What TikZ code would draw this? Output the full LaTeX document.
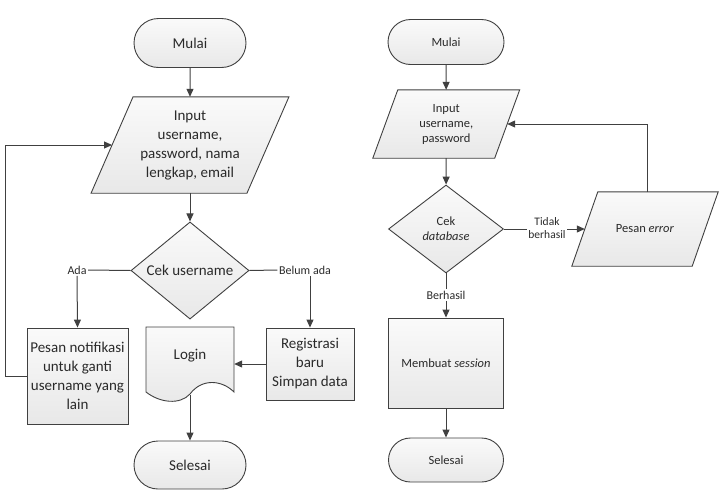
\documentclass[tikz,border=0pt]{standalone}
\usepackage{fontspec}
\setmainfont{Carlito}
\usetikzlibrary{shapes.geometric,shapes.misc,arrows.meta,calc,backgrounds}
\definecolor{lc}{HTML}{404040}
\definecolor{tc}{HTML}{2A2A2A}
\begin{document}
\begin{tikzpicture}[x=1pt,y=-1pt,
  shp/.style={draw=lc, line width=0.9pt, top color=black!2, bottom color=black!9, text=tc},
  bigt/.style={font=\fontsize{15}{19}\selectfont, text=tc, align=center},
  smallt/.style={font=\fontsize{12.5}{15}\selectfont, text=tc, align=center},
  term/.style={shp, rounded rectangle, inner sep=0pt},
  proc/.style={shp, rectangle, inner sep=0pt},
  dec/.style={shp, diamond, inner sep=0pt},
  plain/.style={inner sep=0pt},
  lbl/.style={font=\fontsize{12}{13.5}\selectfont, text=tc, inner sep=1.5pt, align=center},
  ln/.style={draw=lc, line width=1pt},
  arr/.style={ln, -{Triangle[length=8pt,width=7pt]}}
]
\useasboundingbox (0,0) rectangle (723,498);

% ---------------- left flowchart ----------------
\node[term, bigt, minimum width=112, minimum height=49] (mulai1) at (190,43) {Mulai};
\node[plain, bigt, minimum width=155.5, minimum height=96] (in1) at (190,145)
  {Input\\username,\\password, nama\\lengkap, email};
\node[dec, bigt, minimum width=118, minimum height=95] (cek1) at (190,270.5) {Cek username};
\node[lbl] (ada) at (77,270) {Ada};
\node[lbl] (belum) at (305,270) {Belum ada};
\node[proc, bigt, minimum width=101, minimum height=96] (pesan) at (77.5,376)
  {Pesan notifikasi\\untuk ganti\\username yang\\lain};
\node[proc, bigt, minimum width=88, minimum height=72] (reg) at (310,364)
  {Registrasi\\baru\\Simpan data};
\node[plain, bigt, minimum width=88, minimum height=58] (login) at (190,356) {Login};
\coordinate (loginbot) at (190,395);
\node[term, bigt, minimum width=112, minimum height=48] (sel1) at (190,465) {Selesai};

\begin{pgfonlayer}{background}
  \path[shp] ($(in1.south west)+(-21,0)$) -- ($(in1.south east)+(-21,0)$)
     -- ($(in1.north east)+(21,0)$) -- ($(in1.north west)+(21,0)$) -- cycle;
  \path[shp] (146,327) -- (234,327) -- (234,392)
     .. controls (222,380) and (202,378) .. (190,394)
     .. controls (180,405) and (160,403) .. (146,392) -- cycle;
\end{pgfonlayer}

\draw[arr] (mulai1) -- (in1);
\draw[arr] (in1) -- (cek1);
\draw[ln] (cek1.west) -- (ada.east);
\draw[arr] (ada.south) -- (pesan.north);
\draw[ln] (cek1.east) -- (belum.west);
\draw[arr] (belum.south -| reg.north) -- (reg.north);
\draw[arr] (reg.west) -- (reg.west -| login.east);
\draw[arr] (loginbot) -- (sel1);
\draw[arr] (pesan.west) -- (5,376) -- (5,145) -- (in1.west);

% ---------------- right flowchart ----------------
\node[term, smallt, minimum width=116, minimum height=45] (mulai2) at (446,42) {Mulai};
\node[plain, smallt, minimum width=121.5, minimum height=68] (in2) at (446.25,124)
  {Input\\username,\\password};
\node[dec, smallt, minimum width=115, minimum height=88] (cek2) at (446,229) {Cek\\\textit{database}};
\node[lbl, font=\fontsize{11.5}{13.5}\selectfont] (tidak) at (547,228) {Tidak\\berhasil};
\node[plain, smallt, minimum width=120, minimum height=74] (err) at (645,229) {Pesan \textit{error}};
\node[lbl] (berhasil) at (446,295) {Berhasil};
\node[proc, smallt, minimum width=115, minimum height=90] (sess) at (446,363) {Membuat \textit{session}};
\node[term, smallt, minimum width=115, minimum height=44] (sel2) at (446,460) {Selesai};

\begin{pgfonlayer}{background}
  \path[shp] ($(in2.south west)+(-12.5,0)$) -- ($(in2.south east)+(-12.5,0)$)
     -- ($(in2.north east)+(12.5,0)$) -- ($(in2.north west)+(12.5,0)$) -- cycle;
  \path[shp] ($(err.south west)+(-13,0)$) -- ($(err.south east)+(-13,0)$)
     -- ($(err.north east)+(13,0)$) -- ($(err.north west)+(13,0)$) -- cycle;
\end{pgfonlayer}

\draw[arr] (mulai2) -- (in2);
\draw[arr] (in2) -- (cek2);
\draw[ln] (cek2.east) -- (tidak.west |- cek2.east);
\draw[arr] (tidak.east |- cek2.east) -- (err.west);
\draw[arr] (err.north -| 647,0) -- (647,124) -- (in2.east);
\draw[ln] (cek2.south) -- (berhasil.north);
\draw[arr] (berhasil.south) -- (sess.north);
\draw[arr] (sess) -- (sel2);
\end{tikzpicture}
\end{document}
